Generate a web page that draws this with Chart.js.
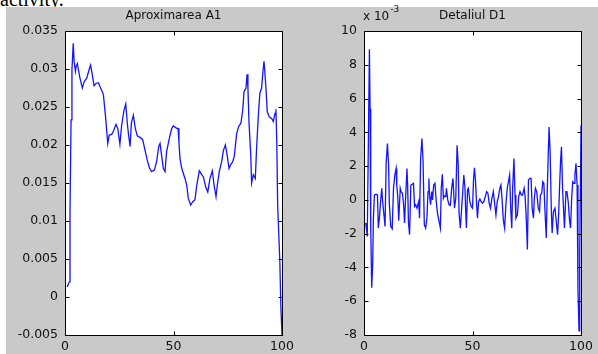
<!DOCTYPE html>
<html>
<head>
<meta charset="utf-8">
<script src="https://cdn.jsdelivr.net/npm/chart.js@4.4.1/dist/chart.umd.min.js"></script>
<style>
  html,body{margin:0;padding:0;background:#fff;width:598px;height:354px;overflow:hidden;position:relative;}
  #txt{position:absolute;left:0;top:-11px;font:20px "Liberation Serif",serif;line-height:20px;color:#000;white-space:nowrap;}
  #fig{position:absolute;left:6px;top:7px;width:592px;height:347px;background:#c9c9c9;}
  canvas{position:absolute;top:0;}
</style>
</head>
<body>
<div id="txt">activity.</div>
<div id="fig"></div>
<canvas id="c1" width="299" height="354" style="left:0"></canvas>
<canvas id="c2" width="299" height="354" style="left:299px"></canvas>
<script>
// ---- data ----
const titleA = "Aproximarea A1";
const titleD = "Detaliul D1";
const xTicksStep = 50;
const a1X = [1,2,2.3,2.8,3.2,3.8,4.2,4.8,5.1,5.7,6.1,6.9,8.0,8.8,10.0,11.2,11.8,12.6,13.4,14.3,15.4,16.1,16.9,17.7,18.7,19.7,20.4,21.5,22.3,23.5,24.3,25.3,26.1,27.2,28.0,28.7,29.3,30.0,30.6,31.5,32.4,33.3,34.6,35.8,36.9,37.9,38.9,39.9,41.2,42.2,43.2,43.8,44.5,45.3,46.1,46.8,48.1,49.2,49.9,51.5,52.1,52.5,53.0,53.8,55.3,56.1,56.8,57.9,58.8,59.9,60.7,61.9,63.0,63.8,64.8,65.8,66.8,67.9,68.7,69.6,70.2,71.1,72.2,73.0,73.9,74.8,75.6,76.3,77.3,78.0,79.1,80.0,81.1,81.9,82.5,83.4,83.9,84.3,84.8,85.6,86.0,86.8,87.7,88.3,89.1,89.8,90.6,91.2,91.7,92.1,92.6,93.2,94.1,95.2,96.0,96.8,97.2,97.6,98.0,99.0,99.5,100];
const a1Y = [0.0013,0.0020,0.0110,0.0233,0.0299,0.0334,0.0310,0.0297,0.0303,0.0307,0.0300,0.0288,0.0275,0.0283,0.0288,0.0300,0.0305,0.0292,0.0278,0.0281,0.0282,0.0277,0.0272,0.0266,0.0237,0.0202,0.0213,0.0214,0.0218,0.0227,0.0222,0.0201,0.0226,0.0246,0.0254,0.0229,0.0213,0.0198,0.0229,0.0239,0.0222,0.0212,0.0210,0.0207,0.0193,0.0180,0.0170,0.0165,0.0167,0.0178,0.0198,0.0202,0.0187,0.0169,0.0165,0.0191,0.0209,0.0222,0.0225,0.0222,0.0222,0.0204,0.0182,0.0169,0.0156,0.0147,0.0130,0.0121,0.0125,0.0128,0.0147,0.0166,0.0161,0.0158,0.0145,0.0138,0.0156,0.0166,0.0147,0.0132,0.0147,0.0165,0.0178,0.0193,0.0200,0.0185,0.0169,0.0174,0.0178,0.0185,0.0215,0.0224,0.0229,0.0246,0.0270,0.0275,0.0293,0.0275,0.0229,0.0187,0.0150,0.0161,0.0156,0.0196,0.0239,0.0268,0.0275,0.0296,0.0310,0.0296,0.0275,0.0244,0.0237,0.0235,0.0231,0.0242,0.0247,0.0204,0.0121,0.0047,-0.0015,-0.0050];
// D1 values in units of 10^-3
const d1X = [0.5,0.9,1.5,2.0,2.5,2.8,3.1,3.55,4.0,4.3,4.8,5.6,6.2,6.6,7.1,7.7,8.2,8.6,9.3,9.7,10.2,10.8,11.3,11.7,12.3,13.0,13.6,14.2,14.8,15.1,15.6,16.0,16.7,17.1,17.7,18.2,18.7,19.1,19.8,20.1,20.5,21.0,21.6,22.2,22.8,23.3,23.8,24.4,25.2,25.6,26.1,26.7,27.2,27.8,28.4,29.0,29.5,29.9,30.2,30.7,31.2,31.6,32.1,32.7,33.3,33.95,34.6,35.2,35.6,36.1,36.6,37.0,37.7,38.0,38.6,39.2,39.8,40.4,41.0,41.7,42.3,42.9,43.4,43.8,44.4,45.2,46.0,46.5,46.9,47.2,47.7,48.1,48.8,49.4,50.0,50.5,50.9,51.4,51.9,52.3,52.8,53.4,54.0,54.6,55.2,55.9,56.5,57.1,57.7,58.3,58.95,59.6,60.2,60.8,61.4,62.0,62.6,63.1,63.6,64.2,64.8,65.4,66.0,66.7,67.1,67.6,68.1,68.5,69.1,69.6,70.0,70.7,71.3,71.9,72.5,73.1,73.8,74.2,74.7,75.3,75.8,76.4,77.0,77.5,78.1,78.5,79.0,79.6,80.3,80.9,81.3,81.9,82.4,82.9,83.3,84.0,84.4,84.9,85.3,85.8,86.3,86.7,87.3,88.0,88.6,89.2,89.7,90.1,90.6,91.0,91.5,92.0,92.4,93.05,93.5,94.1,94.75,95.2,95.7,96.2,96.8,97.2,97.7,98.2,98.6,99.1,99.4,99.8,100];
const d1Y = [-1.37,-1.47,-2.16,3.24,8.92,5.39,-1.67,-5.2,-3.82,-1.18,0.29,0.33,0.29,-1.67,-1.08,0,0.69,-0.1,-1.04,-1.57,2.16,3.33,2.16,-0.29,-1.57,-1.71,0.69,1.47,1.86,0.88,0.1,-1.24,0.69,0.49,0.39,-0.2,-1.37,-0.1,1.86,0.88,-1.37,-2.06,0.88,0.92,0.98,-0.39,-0.29,-0.49,-0.1,-1.08,2.45,3.63,2.35,-1.47,-1.67,-1.08,0.49,1.27,0.29,-0.29,0.49,0,0.88,0.98,-0.1,-0.88,-1.27,-1.67,0.69,1.51,0.1,0.24,0.2,0.69,0,-0.29,-0.33,0.69,1.27,-0.49,0.1,3.24,2.16,-0.78,-1.67,-0.1,1.47,0.78,-0.78,-1.67,0.59,0.69,-0.1,-0.39,-0.49,1.27,1.9,1.08,-0.29,-1.08,-0.1,0.06,-0.1,-0.2,-0.1,0.2,0.49,0.39,-0.2,-0.49,0.1,0.49,-0.2,-0.88,-0.1,0.2,0.69,0.88,0.1,-1.18,-1.67,-0.29,0.69,1.18,1.47,-0.49,-1.67,0.69,2.45,0.29,-1.08,-0.88,0.2,0.49,0.29,0.29,0.69,0.29,-0.88,-2.94,1.18,1.27,1.27,-0.49,-1.08,0.1,0.69,0.49,-0.49,-0.69,0.29,0.39,1.08,0.98,-0.39,-2.25,0.29,2.65,4.31,2.75,-0.49,-1.96,-0.69,-0.49,-1.27,-2.06,-0.88,0.69,2.35,3.14,0.69,-0.69,-1.67,0.49,0.49,-0.1,-1.27,-1.67,0.1,1.08,0.98,1.47,2.16,0.88,-5.29,-7.75,-3.24,1.47,4.41];
const aYMin = -0.005, aYMax = 0.035, aYStep = 0.005;
const dYMin = -8, dYMax = 10, dYStep = 2;
const expText = "x 10", expSup = "-3";

const tickFont = {family:"DejaVu Sans", size:12.5};
const titleFont = {family:"DejaVu Sans", size:12, weight:'normal'};

const plotBg = {
  id:'plotBg',
  beforeDatasetsDraw(chart){
    const a = chart.chartArea, ctx = chart.ctx;
    ctx.save();
    ctx.fillStyle = '#ffffff';
    ctx.fillRect(a.left, a.top, a.right - a.left, a.bottom - a.top);
    ctx.restore();
  }
};
const framePlugin = {
  id:'plotFrame',
  afterDraw(chart){
    const ctx = chart.ctx, a = chart.chartArea;
    const xs = chart.scales.x, ys = chart.scales.y;
    ctx.save();
    ctx.strokeStyle = '#000';
    ctx.lineWidth = 1;
    const l = Math.round(a.left) + 0.5, r = Math.round(a.right) + 0.5;
    const t = Math.round(a.top) + 0.5, b = Math.round(a.bottom) + 0.5;
    ctx.beginPath();
    ctx.rect(l, t, r - l, b - t);
    const L = 4;
    ys.ticks.forEach(function(tk){
      const p = Math.round(ys.getPixelForValue(tk.value)) + 0.5;
      ctx.moveTo(l, p); ctx.lineTo(l + L, p);
      ctx.moveTo(r, p); ctx.lineTo(r - L, p);
    });
    xs.ticks.forEach(function(tk){
      const p = Math.round(xs.getPixelForValue(tk.value)) + 0.5;
      ctx.moveTo(p, b); ctx.lineTo(p, b - L);
      ctx.moveTo(p, t); ctx.lineTo(p, t + L);
    });
    ctx.stroke();
    ctx.restore();
  }
};
const expPlugin = {
  id:'expo',
  afterDraw(chart){
    const ctx = chart.ctx, left = chart.chartArea.left;
    ctx.save();
    ctx.fillStyle='#111';
    ctx.textBaseline='alphabetic';
    ctx.font='12px "DejaVu Sans"';
    ctx.fillText(expText, left-1, 20);
    const w = ctx.measureText(expText).width;
    ctx.font='9px "DejaVu Sans"';
    ctx.fillText(expSup, left-1+w+1, 12);
    ctx.restore();
  }
};

function makeChart(id, xs, ys, ymin, ymax, ystep, title, fmt, extra){
  const pts = xs.map((v,i)=>({x:v, y:ys[i]}));
  return new Chart(document.getElementById(id), {
    type:'line',
    data:{datasets:[{data:pts, borderColor:'#1414ff', borderWidth:1.3, pointRadius:0, tension:0, fill:false}]},
    options:{
      responsive:false, animation:false, devicePixelRatio:1,
      layout:{padding:{left:0, right:17, top:0, bottom:0}},
      plugins:{
        legend:{display:false}, tooltip:{enabled:false},
        title:{display:true, text:title, fullSize:false, color:'#111', font:titleFont, padding:{top:8.5, bottom:8.1}}
      },
      scales:{
        x:{type:'linear', min:0, max:100,
           ticks:{stepSize:xTicksStep, color:'#111', font:tickFont, padding:4, maxRotation:0},
           grid:{display:false, drawTicks:false}, border:{display:false},
           afterFit(s){ s.height = 19; }},
        y:{type:'linear', min:ymin, max:ymax,
           ticks:{stepSize:ystep, color:'#111', font:tickFont, padding:7, callback:fmt},
           grid:{display:false, drawTicks:false}, border:{display:false},
           afterFit(s){ s.width = 65; }}
      }
    },
    plugins: extra
  });
}

makeChart('c1', a1X, a1Y, aYMin, aYMax, aYStep, titleA, v=>String(+Number(v).toFixed(3)), [plotBg, framePlugin]);
makeChart('c2', d1X, d1Y, dYMin, dYMax, dYStep, titleD, v=>String(Math.round(v)), [plotBg, framePlugin, expPlugin]);
</script>
</body>
</html>
